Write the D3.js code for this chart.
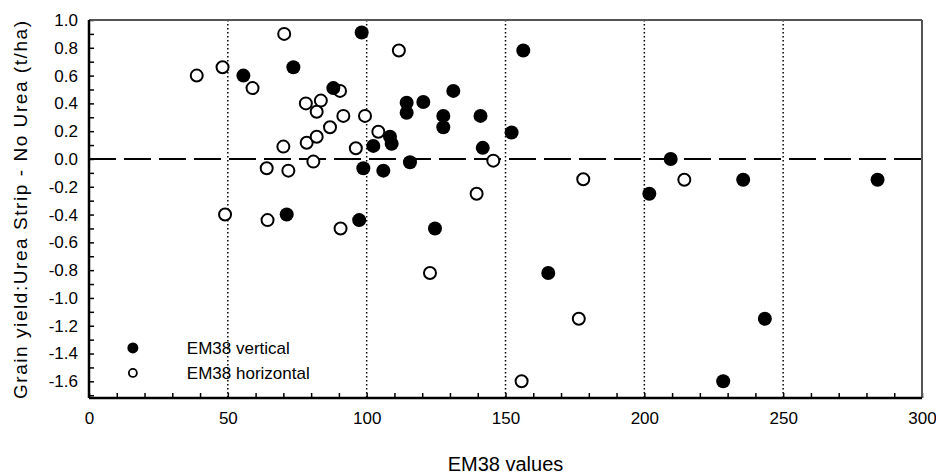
<!DOCTYPE html>
<html>
<head>
<meta charset="utf-8">
<script src="https://cdn.jsdelivr.net/npm/d3@7"></script>
<style>
  body { margin: 0; background: #fff; }
  svg text { font-family: "Liberation Sans", Arial, sans-serif; fill: #000; }
</style>
</head>
<body>
<div id="chart"></div>
<script>
// EM38 vertical readings (filled markers)
const verticalX = [55.6, 73.6, 98.2, 88.0, 114.4, 114.4, 120.4, 131.2, 127.6, 127.6,
  141.0, 156.4, 152.2, 141.8, 209.5, 201.8, 108.4, 109.0, 102.4, 98.8,
  106.0, 115.6, 97.3, 124.6, 71.2, 165.4, 235.6, 284.0, 243.4, 228.4];
const verticalY = [0.60, 0.66, 0.91, 0.51, 0.405, 0.333, 0.41, 0.49, 0.31, 0.228,
  0.31, 0.78, 0.19, 0.08, 0.0, -0.25, 0.16, 0.11, 0.094, -0.067,
  -0.084, -0.024, -0.44, -0.50, -0.40, -0.82, -0.15, -0.15, -1.15, -1.60];

// EM38 horizontal readings (open markers)
const horizontalX = [38.8, 48.1, 58.9, 70.3, 78.1, 83.5, 82.0, 90.4, 91.6, 99.4,
  86.8, 104.2, 111.6, 70.0, 78.4, 82.0, 64.0, 71.8, 80.8, 49.0,
  64.3, 96.1, 145.6, 139.6, 90.6, 178.0, 214.4, 122.8, 176.4, 155.8];
const horizontalY = [0.60, 0.66, 0.51, 0.90, 0.40, 0.42, 0.34, 0.49, 0.31, 0.31,
  0.228, 0.196, 0.78, 0.089, 0.117, 0.16, -0.067, -0.084, -0.019, -0.40,
  -0.44, 0.077, -0.012, -0.25, -0.50, -0.146, -0.15, -0.82, -1.15, -1.60];

const xTicks = [0, 50, 100, 150, 200, 250, 300];
const yTicks = [-1.6, -1.4, -1.2, -1.0, -0.8, -0.6, -0.4, -0.2, 0.0, 0.2, 0.4, 0.6, 0.8, 1.0];
const gridX = [50, 100, 150, 200, 250];
const seriesNames = ["EM38 vertical", "EM38 horizontal"];
const xTitle = "EM38 values";
const yTitle = "Grain yield:Urea Strip - No Urea (t/ha)";

const W = 936, H = 474;
const margin = { top: 20, right: 14, bottom: 76, left: 89 };
const width = W - margin.left - margin.right;
const height = H - margin.top - margin.bottom;

const svg = d3.select("#chart").append("svg")
  .attr("width", W)
  .attr("height", H);

const g = svg.append("g")
  .attr("transform", `translate(${margin.left},${margin.top})`);

const x = d3.scaleLinear().domain([0, 300]).range([0, width]);
const y = d3.scaleLinear().domain([-1.72, 1.0]).range([height, 0]);

// dotted vertical grid
g.selectAll(".grid")
  .data(gridX)
  .join("line")
  .attr("x1", d => x(d)).attr("x2", d => x(d))
  .attr("y1", 0).attr("y2", height)
  .attr("stroke", "#000")
  .attr("stroke-width", 1.5)
  .attr("stroke-dasharray", "1.5,2.5");

// dashed zero line
g.append("line")
  .attr("x1", 0).attr("x2", width)
  .attr("y1", y(0)).attr("y2", y(0))
  .attr("stroke", "#000")
  .attr("stroke-width", 2)
  .attr("stroke-dasharray", "27,8");

// minor ticks (inward)
const xMinor = d3.range(0, 301, 10);
const yMinor = d3.range(-17, 11).map(i => i / 10);

g.append("g")
  .attr("transform", `translate(0,${height})`)
  .call(d3.axisBottom(x).tickValues(xMinor).tickSize(-5).tickFormat(""))
  .call(a => a.select(".domain").remove())
  .call(a => a.selectAll("line").attr("stroke-width", 1.5));

g.append("g")
  .call(d3.axisLeft(y).tickValues(yMinor).tickSize(-5).tickFormat(""))
  .call(a => a.select(".domain").remove())
  .call(a => a.selectAll("line").attr("stroke-width", 1.5));

// tick labels
g.append("g")
  .attr("transform", `translate(0,${height})`)
  .call(d3.axisBottom(x).tickValues(xTicks).tickSize(0).tickPadding(14).tickFormat(d => d))
  .call(a => a.select(".domain").remove())
  .call(a => a.selectAll("text").attr("font-size", 17).attr("font-family", null));

g.append("g")
  .call(d3.axisLeft(y).tickValues(yTicks).tickSize(0).tickPadding(11)
    .tickFormat(d => (Math.abs(d) < 1e-9 ? 0 : d).toFixed(1)))
  .call(a => a.select(".domain").remove())
  .call(a => a.selectAll("text").attr("font-size", 17).attr("font-family", null));

// frame
g.append("line").attr("x1", 0).attr("x2", width).attr("y1", 0).attr("y2", 0)
  .attr("stroke", "#555").attr("stroke-width", 2);
g.append("line").attr("x1", width).attr("x2", width).attr("y1", 0).attr("y2", height)
  .attr("stroke", "#555").attr("stroke-width", 2);
g.append("line").attr("x1", 0).attr("x2", width).attr("y1", height).attr("y2", height)
  .attr("stroke", "#000").attr("stroke-width", 2.5);
g.append("line").attr("x1", 0).attr("x2", 0).attr("y1", 0).attr("y2", height)
  .attr("stroke", "#000").attr("stroke-width", 2.5);

// points
const horizontal = horizontalX.map((v, i) => ({ x: v, y: horizontalY[i] }));
const vertical = verticalX.map((v, i) => ({ x: v, y: verticalY[i] }));

g.selectAll(".open")
  .data(horizontal)
  .join("circle")
  .attr("cx", d => x(d.x))
  .attr("cy", d => y(d.y))
  .attr("r", 6)
  .attr("fill", "#fff")
  .attr("stroke", "#000")
  .attr("stroke-width", 2);

g.selectAll(".filled")
  .data(vertical)
  .join("circle")
  .attr("cx", d => x(d.x))
  .attr("cy", d => y(d.y))
  .attr("r", 7)
  .attr("fill", "#000");

// legend
const legend = g.append("g").attr("transform", `translate(${x(15.8)},${y(-1.36)})`);
legend.append("circle").attr("cx", 0).attr("cy", 0).attr("r", 5.5).attr("fill", "#000");
legend.append("circle").attr("cx", 0).attr("cy", 25).attr("r", 4)
  .attr("fill", "#fff").attr("stroke", "#000").attr("stroke-width", 1.8);
legend.selectAll("text")
  .data(seriesNames)
  .join("text")
  .attr("x", 54)
  .attr("y", (d, i) => i * 25 + 6)
  .attr("font-size", 17)
  .text(d => d);

// axis titles
svg.append("text")
  .attr("x", margin.left + width / 2)
  .attr("y", 471)
  .attr("text-anchor", "middle")
  .attr("font-size", 20)
  .text(xTitle);

svg.append("text")
  .attr("transform", `translate(27,210) rotate(-90)`)
  .attr("text-anchor", "middle")
  .attr("font-size", 19)
  .attr("textLength", 378)
  .attr("lengthAdjust", "spacing")
  .text(yTitle);
</script>
</body>
</html>
